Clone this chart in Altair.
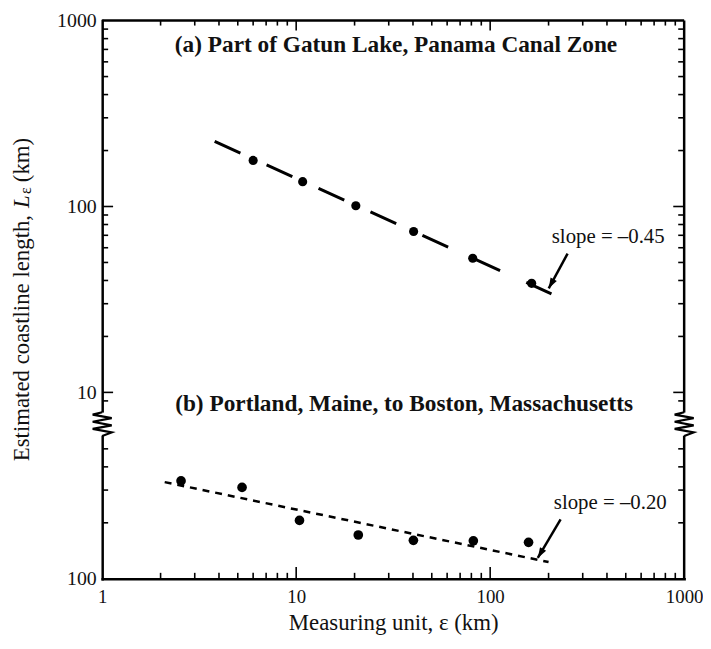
import math
import altair as alt
import pandas as pd

FONT = "Liberation Serif"

# ---------------- data ----------------
# (a) Part of Gatun Lake, Panama Canal Zone
eps_a = [6.0, 10.8, 20.3, 40.3, 81.3, 163.6]
len_a = [177, 136, 101, 73.4, 52.7, 38.6]
fit_a_eps = [3.8, 207]
fit_a_len = [224, 33.9]

# (b) Portland, Maine, to Boston, Massachusetts
eps_b = [2.55, 5.26, 10.4, 20.9, 40.2, 81.9, 157.7]
len_b = [336, 310, 206, 172, 161, 160, 157]
fit_b_eps = [2.1, 200]
fit_b_len = [331, 123]

# texts
title_a = "(a) Part of Gatun Lake, Panama Canal Zone"
title_b = "(b) Portland, Maine, to Boston, Massachusetts"
slope_a = "slope = \u20130.45"
slope_b = "slope = \u20130.20"
x_title = "Measuring unit, \u03b5 (km)"
y_title_parts = ["Estimated coastline length,", "L", "\u03b5", "(km)"]

# text anchors in data units
title_a_pos = [32.7, 736]
title_b_pos = [36, 8.63]
slope_a_pos = [406, 68.7]
slope_b_pos = [416, 254]

# arrows: [eps_start, L_start, eps_tip, L_tip]
arrow_a = [250.6, 55.8, 200.4, 36.3]
arrow_b = [230.7, 209, 176, 129.5]

# axes
x_labels = [1, 10, 100, 1000]
y_labels_upper = [10, 100, 1000]
y_labels_lower = [100]
x_major_ticks = [10, 100]
x_minor_ticks = [2, 3, 4, 5, 6, 7, 8, 9, 20, 30, 40, 50, 60, 70, 80, 90,
                 200, 300, 400, 500, 600, 700, 800, 900]
y_major_ticks_upper = [10, 100]
y_minor_ticks_upper = [9, 20, 30, 40, 50, 60, 70, 80, 90,
                       200, 300, 400, 500, 600, 700, 800, 900]
y_minor_ticks_lower = [200, 300, 400, 500]

x_domain = [1, 1000]
y_domain_upper = [6.75, 1000]
y_domain_lower = [100, 679]

# ---------------- layout ----------------
W = 587
HU = 407
HL = 156
DEC_X = W / math.log10(x_domain[1] / x_domain[0])          # px per decade
DEC_Y = HU / math.log10(y_domain_upper[1] / y_domain_upper[0])

XS = alt.Scale(type="log", domain=x_domain)
YU = alt.Scale(type="log", domain=y_domain_upper)
YL = alt.Scale(type="log", domain=y_domain_lower)

AXIS_LINE = dict(grid=False, ticks=False, domain=True, domainColor="black",
                 domainWidth=2.5, domainCap="square")

AY_U = alt.Axis(orient="left", values=y_labels_upper, format="d",
                labelFont=FONT, labelFontSize=20, labelColor="#111",
                labelPadding=6, labelOverlap=False, title=None, **AXIS_LINE)
AX_L = alt.Axis(orient="bottom", values=x_labels, format="d",
                labelFont=FONT, labelFontSize=19, labelColor="#111",
                labelPadding=9, labelFlush=False, labelOverlap=False,
                title=x_title, titleFont=FONT, titleFontSize=23,
                titleFontWeight="normal", titleColor="#111",
                titlePadding=5, **AXIS_LINE)
AY_L = alt.Axis(orient="left", values=y_labels_lower, format="d",
                labelFont=FONT, labelFontSize=20, labelColor="#111",
                labelPadding=6, title=None, **AXIS_LINE)

one = pd.DataFrame({"a": [0]})


def X(field, ax):
    return alt.X(field, type="quantitative", scale=XS, axis=ax)


def Y(field, ys, ay):
    return alt.Y(field, type="quantitative", scale=ys, axis=ay)


def tick_table(y_specs, x_specs):
    """Build segment table for inward ticks.
    y_specs: list of (values, length_px, side) with side 'left'/'right'
    x_specs: list of (values, length_px, edge_value, direction) direction +1 up"""
    rows = []
    for vals, length, side in y_specs:
        r = 10 ** (length / DEC_X)
        x1 = x_domain[1] if side == "right" else x_domain[0]
        x2 = x1 / r if side == "right" else x1 * r
        for v in vals:
            rows.append({"x1": x1, "x2": x2, "y1": v, "y2": v})
    for vals, length, edge, direction in x_specs:
        r = 10 ** (length / DEC_Y)
        y2 = edge * r if direction > 0 else edge / r
        for v in vals:
            rows.append({"x1": v, "x2": v, "y1": edge, "y2": y2})
    return pd.DataFrame(rows)


def ticks_layer(df, ys, ax, ay):
    return alt.Chart(df).mark_rule(color="black", strokeWidth=1.6).encode(
        x=X("x1", ax), x2="x2:Q", y=Y("y1", ys, ay), y2="y2:Q")


def text_layer(pos, txt, ys, ax, ay, size, weight="normal"):
    df = pd.DataFrame({"eps": [pos[0]], "L": [pos[1]], "t": [txt]})
    return alt.Chart(df).mark_text(font=FONT, fontSize=size, fontWeight=weight,
                                   color="#111", align="center",
                                   baseline="middle").encode(
        x=X("eps", ax), y=Y("L", ys, ay), text="t:N")


def arrow(arr, ys, ax, ay, angle):
    df = pd.DataFrame({"e1": [arr[0]], "l1": [arr[1]], "e2": [arr[2]], "l2": [arr[3]]})
    shaft = alt.Chart(df).mark_rule(color="black", strokeWidth=2.5).encode(
        x=X("e1", ax), y=Y("l1", ys, ay), x2="e2:Q", y2="l2:Q")
    head = alt.Chart(df).mark_point(
        shape="M0,0L0.65,1.9L-0.65,1.9Z", filled=True, color="black",
        opacity=1, size=121, angle=angle).encode(
        x=X("e2", ax), y=Y("l2", ys, ay))
    return [shaft, head]


def ytitle_piece(txt, ypix, align, size=23, style="normal", dx=0):
    df = pd.DataFrame({"t": [txt]})
    return alt.Chart(df).mark_text(font=FONT, fontSize=size, fontStyle=style,
                                   color="#111", angle=270, align=align,
                                   baseline="middle").encode(
        text="t:N", x=alt.value(-81 + dx), y=alt.value(ypix))


# ---------------- upper panel ----------------
AX_U = None
df_a = pd.DataFrame({"eps": eps_a, "L": len_a})
df_fit_a = pd.DataFrame({"eps": fit_a_eps, "L": fit_a_len})

points_a = alt.Chart(df_a).mark_circle(color="black", size=85, opacity=1).encode(
    x=X("eps", AX_U), y=Y("L", YU, AY_U))

line_a = alt.Chart(df_fit_a).mark_line(color="black", strokeWidth=3,
                                       strokeDash=[28.5, 29]).encode(
    x=X("eps", AX_U), y=Y("L", YU, AY_U))

right_a = alt.Chart(one).mark_rule(color="black", strokeWidth=2.5).encode(
    x=alt.value(W), y=alt.value(0), y2=alt.value(HU))
top_a = alt.Chart(one).mark_rule(color="black", strokeWidth=2.5).encode(
    x=alt.value(0), x2=alt.value(W), y=alt.value(0))

ticks_a = tick_table(
    [(y_minor_ticks_upper, 6, "left"), (y_major_ticks_upper, 11, "left"),
     (y_minor_ticks_upper, 6, "right"), (y_major_ticks_upper, 11, "right")],
    [(x_minor_ticks, 5, y_domain_upper[1], -1),
     (x_major_ticks, 10, y_domain_upper[1], -1)])

upper = alt.layer(
    points_a,
    right_a,
    top_a,
    ticks_layer(ticks_a, YU, AX_U, AY_U),
    line_a,
    *arrow(arrow_a, YU, AX_U, AY_U, 208.5),
    text_layer(slope_a_pos, slope_a, YU, AX_U, AY_U, 21),
    text_layer(title_a_pos, title_a, YU, AX_U, AY_U, 23.5, "bold"),
    text_layer(title_b_pos, title_b, YU, AX_U, AY_U, 23.5, "bold"),
    ytitle_piece(y_title_parts[0], 196, "right"),
    ytitle_piece(y_title_parts[1], 189, "left", style="italic"),
    ytitle_piece(y_title_parts[2], 175, "left", size=16, dx=4),
    ytitle_piece(y_title_parts[3], 163, "left"),
).properties(width=W, height=HU)

# ---------------- lower panel ----------------
df_b = pd.DataFrame({"eps": eps_b, "L": len_b})
df_fit_b = pd.DataFrame({"eps": fit_b_eps, "L": fit_b_len})

points_b = alt.Chart(df_b).mark_circle(color="black", size=95, opacity=1).encode(
    x=X("eps", AX_L), y=Y("L", YL, AY_L))

line_b = alt.Chart(df_fit_b).mark_line(color="black", strokeWidth=2.5,
                                       strokeDash=[7, 6]).encode(
    x=X("eps", AX_L), y=Y("L", YL, AY_L))

right_b = alt.Chart(one).mark_rule(color="black", strokeWidth=2.5).encode(
    x=alt.value(W), y=alt.value(0), y2=alt.value(HL))

ticks_b = tick_table(
    [(y_minor_ticks_lower, 6, "left"), (y_minor_ticks_lower, 6, "right")],
    [(x_minor_ticks, 6, y_domain_lower[0], +1),
     (x_major_ticks, 12, y_domain_lower[0], +1)])

ZIG = "M0,-1L-0.8,-0.8L0.8,-0.5L-0.8,-0.2L0.8,0.1L-0.8,0.4L0.8,0.7L0,1"
COVER = "M-0.35,-0.97L0.35,-0.97L0.35,0.97L-0.35,0.97Z"


def brk(xpos):
    cover = alt.Chart(one).mark_point(shape=COVER, filled=True, color="white",
                                      opacity=1, size=576, strokeWidth=0).encode(
        x=alt.value(xpos), y=alt.value(0))
    zig = alt.Chart(one).mark_point(shape=ZIG, filled=False, color="black",
                                    opacity=1, size=576, strokeWidth=2.2).encode(
        x=alt.value(xpos), y=alt.value(0))
    return [cover, zig]


lower = alt.layer(
    points_b,
    right_b,
    ticks_layer(ticks_b, YL, AX_L, AY_L),
    line_b,
    *arrow(arrow_b, YL, AX_L, AY_L, 210.5),
    text_layer(slope_b_pos, slope_b, YL, AX_L, AY_L, 21),
    *brk(0),
    *brk(W),
).properties(width=W, height=HL)

chart = alt.vconcat(upper, lower, spacing=0, bounds="flush").properties(
    padding={"left": 3, "top": 0, "right": 0, "bottom": 0},
    background="white",
).configure(font=FONT).configure_view(stroke="transparent", strokeWidth=0)

chart.save("out.html", embed_options={"renderer": "svg", "actions": False})
